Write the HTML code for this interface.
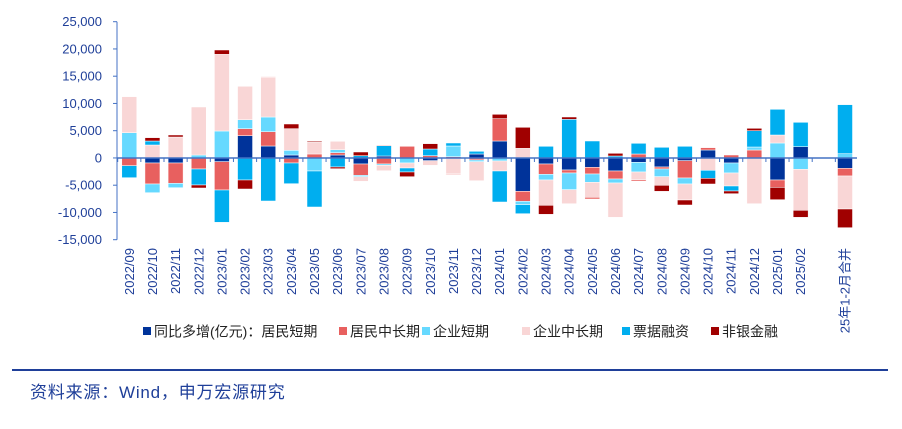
<!DOCTYPE html>
<html><head><meta charset="utf-8"><style>
body{margin:0;background:#fff;width:902px;height:429px;overflow:hidden;font-family:"Liberation Sans","Noto Sans CJK SC",sans-serif}
svg{position:absolute;left:0;top:0}
</style></head><body>
<svg id="s" width="902" height="429" xmlns="http://www.w3.org/2000/svg" font-family="Liberation Sans, Noto Sans CJK SC, sans-serif"></svg>
<script>
const C={d:'#00339a',r:'#e8605f',c:'#66d9ff',p:'#f9d6d6',b:'#00aeef',k:'#a00000'};
const data=[
[['c',368],['p',260]],[['r',467],['b',503]],
[['p',405],['b',393],['k',383]],[['d',459],['r',522],['c',548]],
[['p',381],['k',375]],[['d',459],['r',520],['c',533]],
[['c',435],['p',291]],[['r',477],['b',525],['k',534]],
[['c',363],['p',133],['k',120]],[['d',455],['r',540],['b',637]],
[['d',377],['r',356],['c',329],['p',229]],[['b',510],['k',537]],
[['d',408],['r',365],['c',321],['p',202],['r',200]],[['b',573]],
[['d',435],['c',421],['p',356],['k',342]],[['r',459],['b',521]],
[['r',432],['p',397],['k',394]],[['c',483],['b',591]],
[['d',435],['r',428],['c',419],['p',394]],[['b',471],['k',476]],
[['b',437],['k',426]],[['d',462],['r',496],['c',500],['p',514]],
[['d',438],['b',407],['r',405]],[['r',462],['c',466],['p',482]],
[['r',409]],[['c',459],['p',474],['b',486],['k',500]],
[['r',437],['b',417],['k',401]],[['d',452],['p',466]],
[['r',440],['c',408],['b',399]],[['p',492],['r',494]],
[['d',432],['b',424]],[['r',450],['c',455],['p',512]],
[['d',393],['r',326],['k',313]],[['c',453],['p',483],['b',576]],
[['p',415],['k',352]],[['d',544],['r',574],['c',584],['b',611]],
[['b',409]],[['d',462],['r',493],['c',510],['p',586],['k',613]],
[['b',328],['k',321]],[['d',480],['r',489],['c',539],['p',581]],
[['b',393]],[['d',472],['r',492],['c',517],['p',562],['r',567]],
[['b',438],['k',430]],[['d',483],['r',507],['c',519],['p',622]],
[['r',432],['b',400]],[['d',457],['c',486],['p',509],['r',513]],
[['b',412]],[['d',471],['r',477],['c',500],['p',526],['k',544]],
[['b',409]],[['d',452],['r',504],['c',522],['p',570],['k',585]],
[['d',420],['r',413]],[['p',481],['b',505],['k',522]],
[['r',435]],[['d',459],['c',489],['p',528],['b',543],['k',551]],
[['r',420],['c',411],['b',362],['k',355]],[['p',581]],
[['c',399],['p',375],['b',298]],[['d',510],['r',532],['k',569]],
[['d',410],['b',337]],[['c',478],['p',601],['k',622]],
[['c',431],['b',284]],[['d',475],['r',498],['p',597],['k',653]]
];
const labels=[];let y=2022,m=9;for(let i=0;i<30;i++){labels.push(y+'/'+String(m).padStart(2,'0'));m++;if(m>12){m=1;y++;}}
labels.push('25年1-2月合并');
let h='';const Y=z=>10+z/3;
const xs=labels.map((_,i)=>i<30?129.3+i*23.15:845);
for(let i=0;i<31;i++){const x=xs[i]-7.5;
 for(let s=0;s<2;s++){let prev=444;for(const [c,z] of data[i*2+s]){const a=Y(Math.min(prev,z)),b=Y(Math.max(prev,z));h+=`<rect x="${x}" y="${a}" width="15" height="${b-a}" fill="${C[c]}" stroke="#fff" stroke-width="0.5"/>`;prev=z;}}
}
h+=`<line x1="117" y1="21.7" x2="117" y2="239.7" stroke="#4472c4" stroke-width="1"/>`;
for(let k=0;k<=8;k++){const v=25000-k*5000,yy=21.7+k*27.25;
 h+=`<line x1="113" y1="${yy}" x2="117" y2="${yy}" stroke="#4472c4"/>`;
 h+=`<text x="102" y="${yy+4.5}" text-anchor="end" font-size="13" fill="#1f3f99">${v.toLocaleString('en-US')}</text>`;}
h+=`<line x1="117" y1="158" x2="857" y2="158" stroke="#4472c4" stroke-width="1.5"/>`;
for(let i=0;i<=31;i++){const xx=117.7+i*23.15;h+=`<line x1="${xx}" y1="158" x2="${xx}" y2="162" stroke="#4472c4"/>`;}
labels.forEach((l,i)=>{h+=`<text transform="translate(${xs[i]+4.5},248) rotate(-90)" text-anchor="end" font-size="13" fill="#1f3f99">${l}</text>`;});
const leg=[['d',143,'同比多增(亿元)：居民短期'],['r',339,'居民中长期'],['c',422,'企业短期'],['p',522,'企业中长期'],['b',622,'票据融资'],['k',711,'非银金融']];
leg.forEach(([c,x,t])=>{h+=`<rect x="${x}" y="327" width="8" height="8" fill="${C[c]}"/><text x="${x+11}" y="336.5" font-size="14" fill="#222">${t}</text>`;});
h+=`<line x1="12" y1="370" x2="888" y2="370" stroke="#1f3f99" stroke-width="2"/>`;
h+=`<text x="30" y="398" font-size="17" letter-spacing="0.8" fill="#1f3f99">资料来源：Wind，申万宏源研究</text>`;
document.getElementById('s').innerHTML=h;
</script>
</body></html>
